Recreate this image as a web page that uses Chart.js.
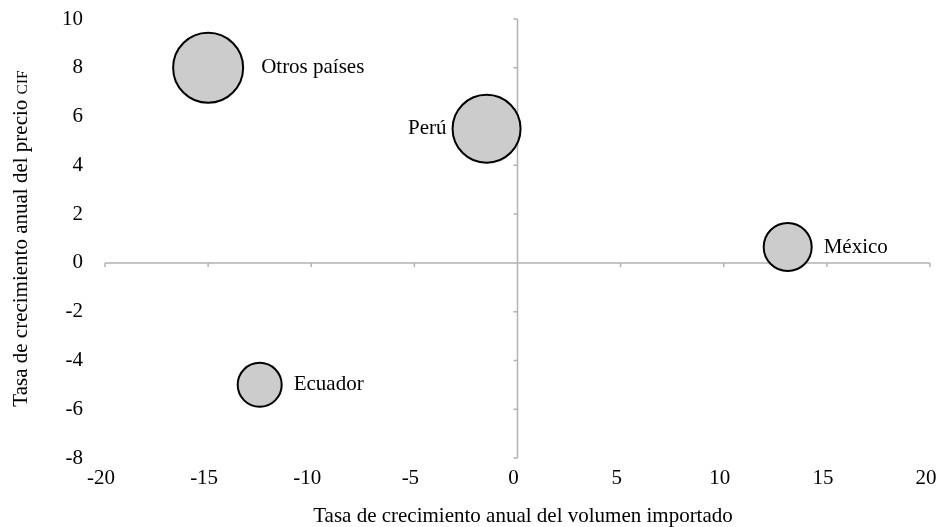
<!DOCTYPE html>
<html>
<head>
<meta charset="utf-8">
<script src="https://cdn.jsdelivr.net/npm/chart.js@4/dist/chart.umd.min.js"></script>
<style>
  html, body { margin: 0; padding: 0; background: #fff; }
</style>
</head>
<body>
<canvas id="chart" width="939" height="527"></canvas>
<script>
// Datos del gráfico
const countries = ['Otros países', 'Perú', 'México', 'Ecuador'];
const volumeGrowth = [-15.0, -1.5, 13.1, -12.5];   // eje x
const priceGrowth = [8.0, 5.5, 0.65, -5.0];         // eje y
const bubbleSize = [35, 34, 24, 22];                // radio de la burbuja
const labelSide = ['right', 'left', 'right', 'right'];
const xTicks = [-20, -15, -10, -5, 0, 5, 10, 15, 20];
const yTicks = [-8, -6, -4, -2, 0, 2, 4, 6, 8, 10];

// separación etiqueta-burbuja (estilo)
const labelGap = [18, 6, 12, 12];

const xTitle = 'Tasa de crecimiento anual del volumen importado';
const yTitle = 'Tasa de crecimiento anual del precio ';
const yTitleSmallCaps = 'CIF';

const FONT = '"Liberation Serif", "Times New Roman", serif';

// ejes que se cruzan en cero, con marcas
const zeroAxes = {
  id: 'zeroAxes',
  beforeDatasetsDraw(chart) {
    const { ctx, chartArea: a, scales: { x, y } } = chart;
    const x0 = x.getPixelForValue(0);
    const y0 = y.getPixelForValue(0);
    ctx.save();
    ctx.strokeStyle = '#b3b3b3';
    ctx.lineWidth = 1.5;
    ctx.beginPath();
    ctx.moveTo(a.left, y0);
    ctx.lineTo(a.right, y0);
    ctx.moveTo(x0, a.top);
    ctx.lineTo(x0, a.bottom);
    xTicks.forEach(v => {
      const px = x.getPixelForValue(v);
      ctx.moveTo(px, y0);
      ctx.lineTo(px, y0 + 4);
    });
    yTicks.forEach(v => {
      const py = y.getPixelForValue(v);
      ctx.moveTo(x0, py);
      ctx.lineTo(x0 - 4, py);
    });
    ctx.stroke();
    ctx.restore();
  }
};

// etiquetas junto a cada burbuja + títulos de ejes
const bubbleLabels = {
  id: 'bubbleLabels',
  afterDatasetsDraw(chart) {
    const { ctx, chartArea: a } = chart;
    const meta = chart.getDatasetMeta(0);
    ctx.save();
    ctx.fillStyle = '#000';
    ctx.font = '21px ' + FONT;
    ctx.textBaseline = 'middle';
    meta.data.forEach((pt, i) => {
      const r = bubbleSize[i] + labelGap[i];
      if (labelSide[i] === 'left') {
        ctx.textAlign = 'right';
        ctx.fillText(countries[i], pt.x - r, pt.y);
      } else {
        ctx.textAlign = 'left';
        ctx.fillText(countries[i], pt.x + r, pt.y);
      }
    });

    // título eje x
    ctx.font = '21px ' + FONT;
    ctx.textAlign = 'center';
    ctx.fillText(xTitle, 523, 516);

    // título eje y (con versalitas para CIF)
    const big = '21px ' + FONT;
    const small = '15.5px ' + FONT;
    ctx.font = big;
    const w1 = ctx.measureText(yTitle).width;
    ctx.font = small;
    const w2 = ctx.measureText(yTitleSmallCaps).width;
    const total = w1 + w2;
    ctx.translate(20, (a.top + a.bottom) / 2);
    ctx.rotate(-Math.PI / 2);
    ctx.textAlign = 'left';
    ctx.textBaseline = 'alphabetic';
    ctx.font = big;
    ctx.fillText(yTitle, -total / 2, 7);
    ctx.font = small;
    ctx.fillText(yTitleSmallCaps, -total / 2 + w1, 7);
    ctx.restore();
  }
};

function noPad(s) {
  s.paddingTop = 0;
  s.paddingBottom = 0;
  s.paddingLeft = 0;
  s.paddingRight = 0;
}

new Chart(document.getElementById('chart').getContext('2d'), {
  type: 'bubble',
  data: {
    datasets: [{
      label: 'Países',
      data: countries.map((c, i) => ({ x: volumeGrowth[i], y: priceGrowth[i], r: bubbleSize[i] })),
      backgroundColor: '#cccccc',
      borderColor: '#000000',
      borderWidth: 2,
      hoverBorderWidth: 2
    }]
  },
  options: {
    responsive: false,
    animation: false,
    layout: { autoPadding: false, padding: { top: 19, right: 9, left: 0, bottom: 0 } },
    plugins: {
      legend: { display: false },
      tooltip: { enabled: false }
    },
    scales: {
      x: {
        type: 'linear',
        min: -20,
        max: 20,
        afterBuildTicks: s => { s.ticks = xTicks.map(v => ({ value: v })); },
        afterFit: s => { s.height = 69; noPad(s); },
        grid: { display: false, drawTicks: false },
        border: { display: false },
        ticks: {
          color: '#000',
          font: { family: FONT, size: 21 },
          padding: 8,
          labelOffset: -4,
          maxRotation: 0
        }
      },
      y: {
        type: 'linear',
        min: -8,
        max: 10,
        afterBuildTicks: s => { s.ticks = yTicks.map(v => ({ value: v })); },
        afterFit: s => { s.width = 105; noPad(s); },
        grid: { display: false, drawTicks: false },
        border: { display: false },
        ticks: {
          color: '#000',
          font: { family: FONT, size: 21 },
          padding: 22
        }
      }
    }
  },
  plugins: [zeroAxes, bubbleLabels]
});
</script>
</body>
</html>
